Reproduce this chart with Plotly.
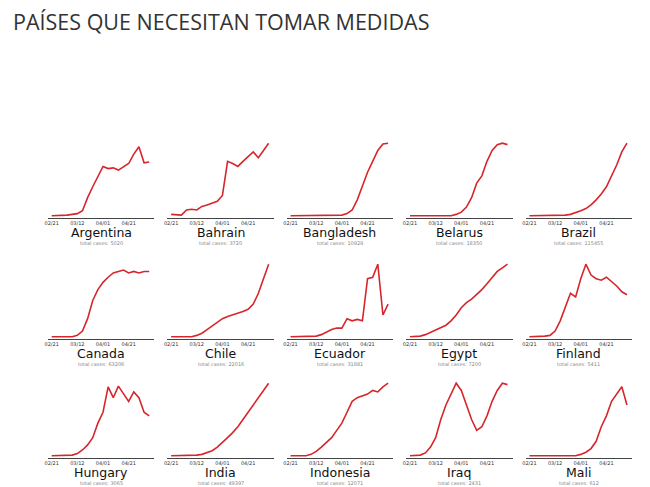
import plotly.graph_objects as go

title = "PAÍSES QUE NECESITAN TOMAR MEDIDAS"
days = list(range(0, 80, 4))  # days since 2020-02-21
tick_days = [0, 20, 40, 60]
tick_labels = ["02/21", "03/12", "04/01", "04/21"]

countries = ["Argentina", "Bahrain", "Bangladesh", "Belarus", "Brazil",
             "Canada", "Chile", "Ecuador", "Egypt", "Finland",
             "Hungary", "India", "Indonesia", "Iraq", "Mali"]
totals = [5020, 3720, 10929, 18350, 115455, 63206, 22016, 31881, 7200, 5411,
          3065, 49397, 12071, 2431, 612]

argentina = [0, 0, 0, 1, 2, 3, 7, 25, 40, 55, 68, 65, 66, 63, 67, 72, 85, 95, 73, 74]
bahrain = [2, 1, 1, 8, 9, 8, 13, 15, 17, 20, 28, 75, 72, 68, 75, 82, 88, 80, 90, 100]
bangladesh = [0, 0, 0, 0, 0, 0, 0, 0, 0, 0, 1, 3, 8, 22, 42, 60, 75, 90, 99, 100]
belarus = [0, 0, 0, 0, 0, 0, 0, 0, 0, 2, 5, 12, 25, 45, 55, 75, 90, 98, 100, 98]
brazil = [0, 0, 0, 0, 0, 0, 0, 1, 2, 4, 7, 10, 15, 22, 30, 40, 55, 70, 88, 100]
canada = [0, 0, 0, 0, 0, 2, 8, 25, 50, 65, 75, 82, 88, 90, 92, 88, 90, 88, 90, 90]
chile = [0, 0, 0, 0, 0, 2, 5, 10, 15, 20, 25, 28, 30, 32, 35, 38, 45, 60, 80, 100]
ecuador = [0, 0, 0, 0, 0, 1, 3, 7, 10, 12, 12, 25, 22, 24, 22, 80, 82, 100, 30, 45]
egypt = [0, 0, 1, 3, 6, 10, 13, 16, 22, 30, 40, 47, 52, 58, 65, 73, 82, 90, 95, 100]
finland = [0, 0, 0, 1, 2, 8, 22, 40, 60, 55, 80, 100, 85, 80, 78, 82, 76, 70, 62, 58]
hungary = [0, 0, 0, 0, 1, 3, 8, 15, 25, 45, 60, 95, 80, 96, 85, 75, 88, 80, 60, 55]
india = [0, 0, 0, 0, 0, 1, 2, 4, 7, 12, 18, 25, 32, 40, 50, 60, 70, 80, 90, 100]
indonesia = [0, 0, 0, 0, 2, 6, 12, 18, 25, 35, 45, 60, 75, 80, 82, 85, 90, 88, 95, 100]
iraq = [0, 0, 1, 4, 12, 25, 50, 70, 85, 100, 90, 70, 50, 35, 40, 55, 75, 90, 100, 98]
mali = [0, 0, 0, 0, 0, 0, 0, 0, 0, 0, 2, 5, 10, 20, 40, 55, 75, 85, 95, 70]
series = [argentina, bahrain, bangladesh, belarus, brazil, canada, chile, ecuador,
          egypt, finland, hungary, india, indonesia, iraq, mali]

W, H = 642, 479
fig = go.Figure()
layout = {}
annotations = []
row_bottoms = [210, 331, 450]
for i, (name, tot, ys) in enumerate(zip(countries, totals, series)):
    r, c = divmod(i, 5)
    x0 = 37 + 120 * c
    x1 = x0 + 107
    bottom = row_bottoms[r]
    top = bottom - 77
    n = i + 1
    xa = "xaxis" if n == 1 else f"xaxis{n}"
    ya = "yaxis" if n == 1 else f"yaxis{n}"
    fig.add_trace(go.Scatter(x=days, y=ys, mode="lines",
                             line=dict(color="#d7262b", width=1.6),
                             xaxis=f"x{n}" if n > 1 else "x",
                             yaxis=f"y{n}" if n > 1 else "y",
                             showlegend=False, hoverinfo="skip"))
    layout[xa] = dict(domain=[x0 / W, x1 / W], anchor=f"y{n}" if n > 1 else "y",
                      range=[-3, 80], tickvals=tick_days, ticktext=tick_labels,
                      showline=True, linecolor="#444", linewidth=1,
                      showgrid=False, zeroline=False, ticks="",
                      tickfont=dict(size=5, color="#333", family="DejaVu Sans"))
    layout[ya] = dict(domain=[1 - bottom / H, 1 - top / H], anchor=f"x{n}" if n > 1 else "x",
                      range=[-3, 103], visible=False)
    cx = (x0 + x1) / 2 / W
    annotations.append(dict(x=cx, y=1 - (bottom + 14) / H, xref="paper", yref="paper",
                            xanchor="center", yanchor="middle",
                            text=name, showarrow=False,
                            font=dict(size=12.5, color="#111", family="DejaVu Sans")))
    annotations.append(dict(x=cx, y=1 - (bottom + 25) / H, xref="paper", yref="paper",
                            xanchor="center", yanchor="middle",
                            text=f"total cases: {tot}", showarrow=False,
                            font=dict(size=5, color="#888", family="DejaVu Sans")))

annotations.append(dict(x=0, y=1 - 13 / H, xref="paper", yref="paper",
                        text=title, showarrow=False, xanchor="left", yanchor="middle",
                        font=dict(size=21.5, color="#333", family="Open Sans", weight=500)))
fig.update_layout(width=W, height=H, margin=dict(l=0, r=0, t=0, b=0),
                  plot_bgcolor="white", paper_bgcolor="white",
                  annotations=annotations, **layout)
fig.write_html("out.html")
